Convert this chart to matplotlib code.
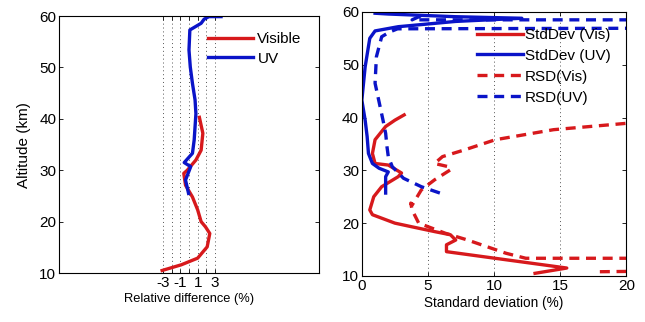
import matplotlib.pyplot as plt

plt.rcParams["font.family"] = ["Liberation Sans", "DejaVu Sans"]

# Left panel: relative difference (%) vs altitude (km)
vis_diff = [-3.1, -0.9, 1.0, 2.1, 2.4, 1.9, 1.4, 1.0, 0.4, -0.4, -0.6, -0.2, 0.8, 1.4, 1.6, 1.2]
vis_alt = [10.5, 11.6, 12.9, 15.1, 17.7, 19.0, 20.0, 22.3, 24.8, 27.1, 29.4, 30.0, 32.0, 33.9, 37.2, 40.3]
uv_diff = [-0.05, -0.4, 0.2, -0.55, 0.4, 0.6, 0.8, 0.7, 0.4, 0.15, 0.0, 0.1, 1.4, 1.75, 2.3, 3.7]
uv_alt = [25.5, 28.1, 30.7, 31.5, 33.3, 35.9, 41.0, 43.7, 46.9, 50.1, 53.4, 57.3, 58.6, 59.4, 59.9, 59.9]

# Right panel: standard deviation / RSD (%) vs altitude (km)
sd_vis_x = [13.1, 15.5, 6.4, 6.4, 7.1, 6.7, 5.5, 3.8, 2.5, 0.8, 0.6, 0.9, 1.5, 2.75, 3.0,
            2.0, 1.0, 0.8, 1.0, 1.8, 2.5, 3.2]
sd_vis_y = [10.5, 11.5, 14.6, 15.9, 16.8, 17.8, 18.4, 19.3, 20.0, 21.6, 22.5, 25.0, 26.9, 28.8, 29.5,
            31.0, 31.3, 33.2, 35.8, 38.3, 39.5, 40.5]
sd_uv_x = [1.8, 1.8, 2.0, 1.3, 0.8, 0.5, 0.4, 0.25, 0.0, 0.25, 0.6, 1.0, 2.75, 7.1, 12.1,
           7.0, 4.0, 2.0, 1.0]
sd_uv_y = [25.7, 28.8, 29.7, 30.4, 31.3, 33.2, 36.4, 39.5, 43.3, 49.6, 55.0, 56.4, 57.2, 58.2, 58.8,
           59.1, 59.4, 59.6, 59.75]
rsd_vis_x = [18.0, 25.0, 25.0, 12.4, 10.9, 8.0, 6.3, 4.3, 3.8, 3.7, 3.8, 4.5, 5.5, 6.7, 6.7,
             5.5, 6.1, 7.8, 10.1, 14.5, 20.0, 26.0]
rsd_vis_y = [10.8, 11.0, 13.35, 13.35, 14.3, 16.8, 18.1, 20.0, 22.5, 23.8, 23.4, 26.3, 28.2, 30.1, 30.6,
             31.3, 32.6, 33.9, 35.8, 37.7, 38.9, 39.8]
rsd_uv_x = [5.9, 4.5, 3.15, 2.3, 2.0, 1.9, 1.8, 1.6, 1.0, 1.1, 1.5, 2.1, 2.7, 20.0, 30.0,
            20.0, 3.8, 4.5]
rsd_uv_y = [25.7, 26.9, 28.5, 30.7, 32.6, 34.5, 37.0, 39.5, 46.5, 51.5, 55.3, 56.2, 56.8, 56.9, 57.7,
            58.5, 58.5, 59.3]

RED = "#d7191c"
BLUE = "#0a14c8"
LW = 2.4
DASH = (0, (3.0, 2.0))

fig = plt.figure(figsize=(6.45, 3.22), dpi=100)
ax1 = fig.add_axes([0.0915, 0.152, 0.403, 0.798])
ax2 = fig.add_axes([0.561, 0.143, 0.410, 0.820])

# left panel
ax1.plot(vis_diff, vis_alt, color=RED, lw=LW, label="Visible")
ax1.plot(uv_diff, uv_alt, color=BLUE, lw=LW, label="UV")
ax1.set_xlim(-15, 15)
ax1.set_ylim(10, 60)
ax1.set_xticks(range(-3, 4))
ax1.set_xticklabels(["-3", "", "-1", "", "1", "", "3"], fontsize=11)
ax1.set_yticks(range(10, 61, 10))
ax1.tick_params(axis="y", labelsize=11)
ax1.grid(axis="x", color="#555555", ls=(0, (1, 3)), lw=0.7)
ax1.set_xlabel("Relative difference (%)", fontsize=9.3, labelpad=2)
ax1.set_ylabel("Altitude (km)", fontsize=11, labelpad=6)
ax1.legend(loc="upper right", frameon=False, fontsize=11, handlelength=2.9,
           handletextpad=0.3, borderaxespad=0.3, labelspacing=0.35,
           bbox_to_anchor=(0.975, 0.978))

# right panel
ax2.plot(sd_vis_x, sd_vis_y, color=RED, lw=LW, label="StdDev (Vis)")
ax2.plot(sd_uv_x, sd_uv_y, color=BLUE, lw=LW, label="StdDev (UV)")
ax2.plot(rsd_vis_x, rsd_vis_y, color=RED, lw=LW, ls=DASH, label="RSD(Vis)")
ax2.plot(rsd_uv_x, rsd_uv_y, color=BLUE, lw=LW, ls=DASH, label="RSD(UV)")
ax2.set_xlim(0, 20)
ax2.set_ylim(10, 60)
ax2.set_xticks(range(0, 21, 5))
ax2.set_yticks(range(10, 61, 10))
ax2.tick_params(labelsize=11)
ax2.grid(axis="x", color="#555555", ls=(0, (1, 3)), lw=0.7)
ax2.set_xlabel("Standard deviation (%)", fontsize=9.8, labelpad=2)
ax2.legend(loc="upper right", frameon=False, fontsize=11, handlelength=3.0,
           handletextpad=0.1, borderaxespad=0.3, labelspacing=0.45,
           bbox_to_anchor=(0.98, 0.98))

for ax in (ax1, ax2):
    ax.tick_params(direction="in", top=True, right=True, length=3, width=0.6, pad=2)
    for s in ax.spines.values():
        s.set_linewidth(0.8)

fig.savefig("out.png", dpi=100)
